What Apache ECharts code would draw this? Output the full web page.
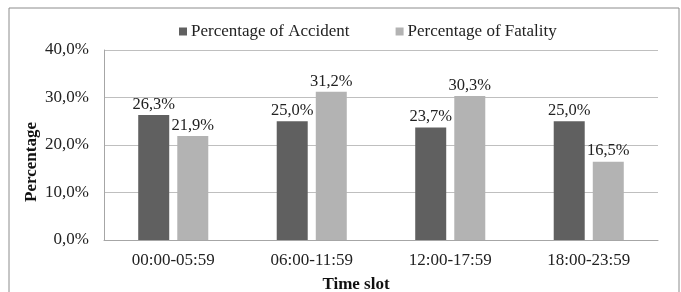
<!DOCTYPE html>
<html>
<head>
<meta charset="utf-8">
<script src="https://cdn.jsdelivr.net/npm/echarts@6/dist/echarts.min.js"></script>
<style>
  html, body { margin: 0; padding: 0; background: #fff; }
  #chart { width: 681px; height: 292px; }
</style>
</head>
<body>
<div id="chart"></div>
<script>
var categories = ['00:00-05:59', '06:00-11:59', '12:00-17:59', '18:00-23:59'];
var accident = [26.3, 25.0, 23.7, 25.0];
var fatality = [21.9, 31.2, 30.3, 16.5];
var seriesNames = ['Percentage of Accident', 'Percentage of Fatality'];
var yTicks = [0, 10, 20, 30, 40];

var font = '"Liberation Serif", "Times New Roman", serif';
function pct(v) {
  return v.toFixed(1).replace('.', ',') + '%';
}

var myChart = echarts.init(document.getElementById('chart'));
var option = {
  backgroundColor: '#fff',
  animation: false,
  textStyle: { fontFamily: font },
  graphic: [{
    type: 'rect',
    shape: { x: 9, y: 8, width: 670, height: 300 },
    style: { fill: 'none', stroke: '#8c8c8c', lineWidth: 1 },
    silent: true
  }],
  legend: {
    top: 18,
    left: 174,
    itemWidth: 8,
    itemHeight: 8,
    itemGap: 46,
    icon: 'rect',
    textStyle: { fontFamily: font, fontSize: 17, color: '#222', padding: [0, 0, 0, -1] },
    data: seriesNames
  },
  grid: {
    left: 104,
    right: 23,
    top: 50,
    bottom: 52,
    containLabel: false,
    outerBoundsMode: 'none'
  },
  xAxis: {
    type: 'category',
    data: categories,
    name: 'Time slot',
    nameLocation: 'middle',
    nameGap: 36,
    nameTextStyle: {
      fontFamily: font, fontSize: 17, fontWeight: 'bold', color: '#111',
      padding: [0, 50, 0, 0]
    },
    axisLine: { show: true, lineStyle: { color: '#a6a6a6' } },
    axisTick: { show: false },
    axisLabel: { fontFamily: font, fontSize: 17, color: '#222', margin: 12 }
  },
  yAxis: {
    type: 'value',
    min: yTicks[0],
    max: yTicks[yTicks.length - 1],
    interval: 10,
    name: 'Percentage',
    nameLocation: 'middle',
    nameGap: 64,
    nameMoveOverlap: false,
    nameTextStyle: {
      fontFamily: font, fontSize: 17, fontWeight: 'bold', color: '#111',
      padding: [0, 34, 0, 0]
    },
    axisLine: { show: true, lineStyle: { color: '#a6a6a6' } },
    axisTick: { show: false },
    splitLine: { show: true, lineStyle: { color: '#bfbfbf' } },
    axisLabel: {
      fontFamily: font, fontSize: 17, color: '#222', margin: 15,
      formatter: function (v) { return pct(v); }
    }
  },
  series: [
    {
      name: seriesNames[0],
      type: 'bar',
      data: accident,
      barWidth: 31,
      barGap: '26%',
      itemStyle: { color: '#606060' },
      label: {
        show: true, position: 'top', distance: 2,
        fontFamily: font, fontSize: 16.5, color: '#222',
        formatter: function (p) { return pct(p.value); }
      }
    },
    {
      name: seriesNames[1],
      type: 'bar',
      data: fatality,
      barWidth: 31,
      itemStyle: { color: '#b3b3b3' },
      label: {
        show: true, position: 'top', distance: 2,
        fontFamily: font, fontSize: 16.5, color: '#222',
        formatter: function (p) { return pct(p.value); }
      }
    }
  ]
};
option && myChart.setOption(option);
</script>
</body>
</html>
